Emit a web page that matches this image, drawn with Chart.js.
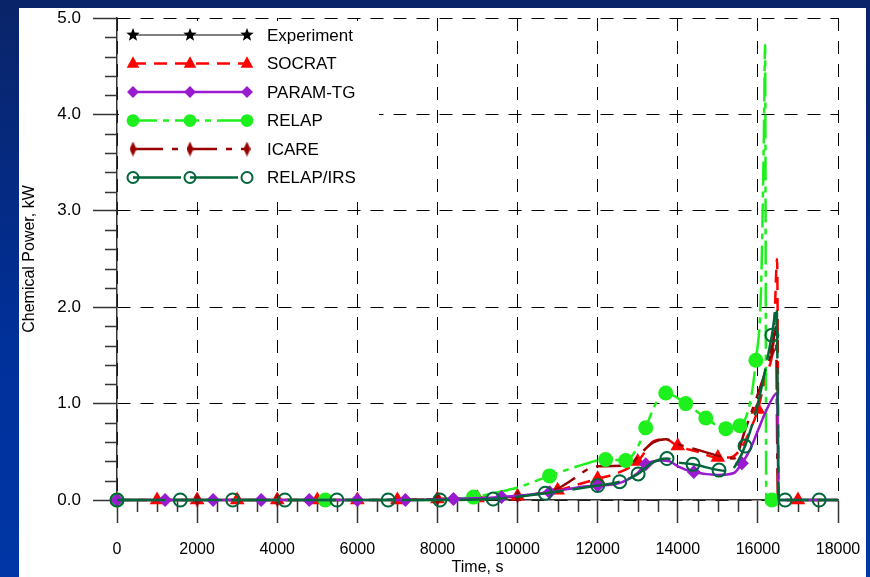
<!DOCTYPE html>
<html>
<head>
<meta charset="utf-8">
<script src="https://cdn.jsdelivr.net/npm/chart.js@4.4.0/dist/chart.umd.min.js"></script>
<style>
  html, body { margin: 0; padding: 0; }
  body {
    width: 870px; height: 577px; overflow: hidden;
    background: linear-gradient(to bottom, #0a2468 0%, #00309a 60%, #0036a6 100%);
  }
  canvas { position: absolute; left: 0; top: 0; }
</style>
</head>
<body>
<canvas id="chart" width="870" height="577"></canvas>
<script>
// chemical power vs time
const xTicks = [0, 2000, 4000, 6000, 8000, 10000, 12000, 14000, 16000, 18000];
const yTicks = [0, 1, 2, 3, 4, 5];

const expT = [];
const expV = [];
const expMarks = [];

const socratT = [0, 1000, 2000, 3000, 4000, 5000, 6000, 7000, 8000, 9000, 10000, 11000, 11500, 12000, 12500, 13000, 13400, 13700, 14000, 14500, 15000, 15300, 15600, 15800, 16000, 16200, 16400, 16480, 16520, 17000, 18000];
const socratV = [0, 0, 0, 0, 0, 0, 0, 0, 0.01, 0.02, 0.04, 0.1, 0.16, 0.22, 0.28, 0.4, 0.61, 0.63, 0.56, 0.5, 0.44, 0.44, 0.55, 0.72, 0.94, 1.3, 1.7, 2.5, 0, 0, 0];
const socratMarks = [0, 1000, 2000, 3000, 4000, 5000, 6000, 7000, 8000, 9000, 10000, 11000, 12000, 13000, 14000, 15000, 16000, 17000];

const paramT = [0, 1200, 2400, 3600, 4800, 6000, 7200, 8400, 9600, 10800, 11500, 12000, 12500, 13000, 13200, 13600, 13800, 14000, 14400, 15000, 15400, 15600, 15800, 16000, 16200, 16400, 16480, 16520, 18000];
const paramV = [0, 0, 0, 0, 0, 0, 0, 0.01, 0.03, 0.08, 0.13, 0.15, 0.17, 0.28, 0.37, 0.41, 0.4, 0.35, 0.29, 0.26, 0.28, 0.38, 0.52, 0.72, 0.92, 1.08, 1.11, 0, 0];
const paramMarks = [0, 1200, 2400, 3600, 4800, 6000, 7200, 8400, 9600, 10800, 12000, 13200, 14400, 15600];

const relapT = [0, 5200, 8000, 8900, 9500, 10000, 10800, 11500, 12200, 12700, 13000, 13200, 13450, 13700, 14200, 14700, 15200, 15550, 15800, 15950, 16080, 16150, 16180, 16210, 16350, 18000];
const relapV = [0, 0, 0, 0.03, 0.08, 0.13, 0.25, 0.35, 0.42, 0.41, 0.55, 0.75, 1.0, 1.11, 1.0, 0.85, 0.74, 0.77, 1.0, 1.45, 2.2, 3.8, 4.72, 0, 0, 0];
const relapMarks = [0, 5200, 8900, 10800, 12200, 12700, 13200, 13700, 14200, 14700, 15200, 15550, 15950, 16350];

const icareT = [0, 2000, 4000, 6000, 8000, 9000, 10000, 11000, 11400, 11800, 12000, 12800, 13000, 13400, 13700, 14000, 14500, 15000, 15400, 15700, 16000, 16200, 16350, 16450, 16500, 18000];
const icareV = [0, 0, 0, 0, 0.01, 0.02, 0.04, 0.12, 0.22, 0.33, 0.35, 0.36, 0.45, 0.6, 0.63, 0.58, 0.52, 0.46, 0.43, 0.75, 1.1, 1.35, 1.55, 1.8, 0, 0];
const icareMarks = [0, 2000, 4000, 6000, 8000, 10000, 16350];

const irsT = [0, 1580, 2890, 4190, 5490, 6770, 8060, 9390, 10690, 12000, 12550, 13010, 13300, 13550, 13730, 14000, 14380, 15030, 15300, 15500, 15680, 16000, 16350, 16470, 16520, 16680, 17530, 18000];
const irsV = [0, 0, 0, 0, 0, 0, 0, 0.01, 0.07, 0.15, 0.19, 0.27, 0.37, 0.42, 0.43, 0.39, 0.37, 0.31, 0.3, 0.4, 0.56, 1.0, 1.71, 2.0, 0, 0, 0, 0];
const irsMarks = [0, 1580, 2890, 4190, 5490, 6770, 8060, 9390, 10690, 12000, 12550, 13010, 13730, 14380, 15030, 15680, 16350, 16680, 17530];

const FONT = '"Liberation Sans", Arial, sans-serif';

function pts(T, V) {
  return T.map((t, i) => ({ x: t, y: V[i] }));
}

function starImage(r, color) {
  const c = document.createElement('canvas');
  c.width = c.height = r * 2 + 2;
  const g = c.getContext('2d');
  g.fillStyle = color;
  g.beginPath();
  for (let i = 0; i < 10; i++) {
    const a = -Math.PI / 2 + i * Math.PI / 5;
    const rr = i % 2 ? r * 0.42 : r;
    g.lineTo(r + 1 + rr * Math.cos(a), r + 1 + rr * Math.sin(a));
  }
  g.closePath();
  g.fill();
  return c;
}

function thinDiamond(w, h, color) {
  const c = document.createElement('canvas');
  c.width = w; c.height = h;
  const g = c.getContext('2d');
  g.fillStyle = color;
  g.beginPath();
  g.moveTo(w / 2, 0);
  g.lineTo(w, h / 2);
  g.lineTo(w / 2, h);
  g.lineTo(0, h / 2);
  g.closePath();
  g.fill();
  return c;
}

const series = [
  { label: 'Experiment', T: expT, V: expV, marks: expMarks, color: '#000000', fill: '#000000',
    dash: [], width: 1, style: starImage(7, '#000000'), radius: 6, border: 0 },
  { label: 'SOCRAT', T: socratT, V: socratV, marks: socratMarks, color: '#ff0000', fill: '#ff0000',
    dash: [13, 8], width: 2.5, style: 'triangle', radius: 8.5, border: 0 },
  { label: 'PARAM-TG', T: paramT, V: paramV, marks: paramMarks, color: '#9a1ad0', fill: '#9a1ad0',
    dash: [], width: 2.5, style: 'rectRot', radius: 7, border: 0 },
  { label: 'RELAP', T: relapT, V: relapV, marks: relapMarks, color: '#1ef01e', fill: '#1ef01e',
    dash: [24, 6, 6, 6], width: 2.5, style: 'circle', radius: 7.5, border: 0 },
  { label: 'ICARE', T: icareT, V: icareV, marks: icareMarks, color: '#990000', fill: '#990000',
    dash: [30, 9, 6, 9], width: 2.5, style: thinDiamond(7, 15, '#990000'), radius: 6, border: 0 },
  { label: 'RELAP/IRS', T: irsT, V: irsV, marks: irsMarks, color: '#00663a', fill: 'rgba(0,0,0,0)',
    dash: [48, 9], width: 2.5, style: 'circle', radius: 6.5, border: 2 }
];

const drawOrder = [5, 4, 1, 2, 3, 0];

const datasets = series.map((s, i) => ({
  label: s.label,
  data: pts(s.T, s.V),
  borderColor: s.color,
  backgroundColor: s.fill,
  borderWidth: s.width,
  borderDash: s.dash,
  pointStyle: s.style,
  pointBorderColor: s.color,
  pointBackgroundColor: s.fill,
  pointBorderWidth: s.border,
  pointRadius: ctx => (ctx.raw && s.marks.includes(ctx.raw.x)) ? s.radius : 0,
  pointHoverRadius: 0,
  cubicInterpolationMode: 'monotone',
  fill: false,
  clip: false,
  order: drawOrder[i]
}));

function drawMarker(g, s, x, y) {
  if (typeof s.style !== 'string') {
    g.drawImage(s.style, x - s.style.width / 2, y - s.style.height / 2);
    return;
  }
  g.save();
  g.fillStyle = s.fill;
  g.strokeStyle = s.color;
  g.lineWidth = s.border;
  g.setLineDash([]);
  g.beginPath();
  const r = s.radius * 0.85;
  if (s.style === 'circle') {
    g.arc(x, y, r, 0, Math.PI * 2);
  } else if (s.style === 'triangle') {
    g.moveTo(x, y - r);
    g.lineTo(x + r * 0.87, y + r * 0.6);
    g.lineTo(x - r * 0.87, y + r * 0.6);
    g.closePath();
  } else {
    g.moveTo(x, y - r);
    g.lineTo(x + r, y);
    g.lineTo(x, y + r);
    g.lineTo(x - r, y);
    g.closePath();
  }
  g.fill();
  if (s.border > 0) g.stroke();
  g.restore();
}

const extras = {
  id: 'extras',
  beforeDraw(chart) {
    const g = chart.ctx;
    g.save();
    g.fillStyle = '#ffffff';
    g.fillRect(19, 8, 847, 569);
    g.restore();
  },
  beforeDatasetsDraw(chart) {
    // white box behind the legend hides the grid there
    const g = chart.ctx;
    g.save();
    g.fillStyle = '#ffffff';
    g.fillRect(119, 21, 260, 172);
    g.restore();

    // minor ticks
    const xs = chart.scales.x, ys = chart.scales.y;
    g.save();
    g.strokeStyle = '#333333';
    g.lineWidth = 1.5;
    g.beginPath();
    for (let v = 0.2; v < 5; v += 0.2) {
      if (Math.abs(v - Math.round(v)) < 0.01) continue;
      const py = Math.round(ys.getPixelForValue(v)) + 0.5;
      g.moveTo(ys.right - 12, py);
      g.lineTo(ys.right, py);
    }
    for (let t = 500; t < 18000; t += 500) {
      if (t % 2000 === 0) continue;
      const px = Math.round(xs.getPixelForValue(t)) + 0.5;
      g.moveTo(px, xs.top);
      g.lineTo(px, xs.top + 12);
    }
    g.stroke();
    g.restore();
  },
  afterDraw(chart) {
    const g = chart.ctx;
    g.save();
    g.font = '17px ' + FONT;
    g.textBaseline = 'middle';
    series.forEach((s, i) => {
      const y = 35 + i * 28.5;
      g.save();
      g.strokeStyle = s.color;
      g.lineWidth = s.width;
      g.setLineDash(s.dash);
      g.beginPath();
      g.moveTo(133, y);
      g.lineTo(247, y);
      g.stroke();
      g.restore();
      [133, 190, 247].forEach(x => drawMarker(g, s, x, y));
      g.fillStyle = '#000000';
      g.fillText(s.label, 267, y + 1);
    });
    g.restore();
  }
};

new Chart(document.getElementById('chart'), {
  type: 'line',
  data: { datasets },
  plugins: [extras],
  options: {
    responsive: false,
    animation: false,
    events: [],
    layout: { padding: { left: 0, top: 18, right: 32, bottom: 0 } },
    plugins: { legend: { display: false }, tooltip: { enabled: false } },
    scales: {
      x: {
        type: 'linear',
        min: 0,
        max: 18000,
        afterBuildTicks: s => { s.ticks = xTicks.map(v => ({ value: v })); },
        afterFit: s => { s.height = 77; s.paddingLeft = 0; s.paddingRight = 0; },
        grid: { color: '#000000', lineWidth: 1, tickLength: 23, tickColor: '#333333', tickWidth: 1.5 },
        border: { display: true, color: '#333333', width: 1.5, dash: [13, 10] },
        ticks: {
          color: '#000000', font: { family: FONT, size: 16 }, padding: 17,
          maxRotation: 0, autoSkip: false, callback: v => String(v)
        },
        title: { display: true, text: 'Time, s', color: '#000000', font: { family: FONT, size: 16 }, padding: 0 }
      },
      y: {
        type: 'linear',
        min: 0,
        max: 5,
        afterBuildTicks: s => { s.ticks = yTicks.map(v => ({ value: v })); },
        afterFit: s => { s.width = 117; s.paddingTop = 0; s.paddingBottom = 0; },
        grid: { color: '#000000', lineWidth: 1, tickLength: 24, tickColor: '#333333', tickWidth: 1.5 },
        border: { display: true, color: '#333333', width: 1.5, dash: [13, 10] },
        ticks: {
          color: '#000000', font: { family: FONT, size: 17 }, padding: 12,
          callback: v => Number(v).toFixed(1)
        },
        title: { display: true, text: 'Chemical Power, kW', color: '#000000', font: { family: FONT, size: 16 }, padding: { top: 20, bottom: 0 } }
      }
    }
  }
});
</script>
</body>
</html>
